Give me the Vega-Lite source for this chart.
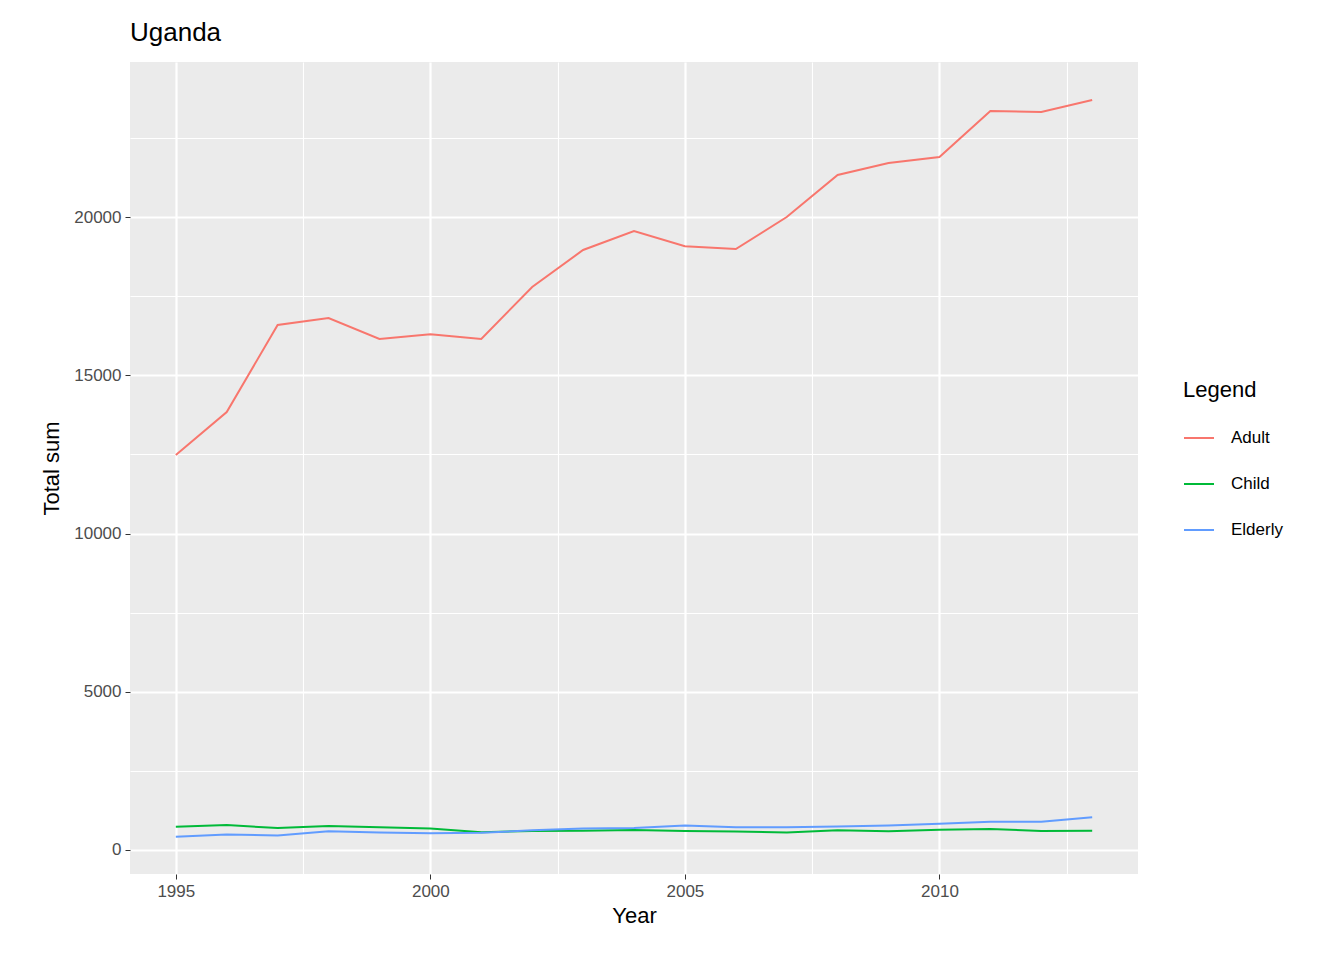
{
  "$schema": "https://vega.github.io/schema/vega-lite/v6.json",
  "width": 1008,
  "height": 812,
  "autosize": "none",
  "padding": {"left": 130, "top": 62, "right": 206, "bottom": 86},
  "background": "white",
  "config": {
    "font": "Liberation Sans",
    "view": {"fill": "#EBEBEB", "stroke": null},
    "axis": {"domain": false, "labelFontSize": 17, "labelColor": "#4D4D4D", "titleFontSize": 22, "titleFontWeight": "normal", "titleColor": "black", "tickColor": "#333333", "tickSize": 5, "gridColor": "white", "gridWidth": 2.2}
  },
  "title": {"text": "Uganda", "anchor": "start", "frame": "group", "fontSize": 26, "fontWeight": "normal", "offset": 16},
  "data": {"values": [
    {"Year":1995,"g":"Adult","v":12480},{"Year":1996,"g":"Adult","v":13840},{"Year":1997,"g":"Adult","v":16590},{"Year":1998,"g":"Adult","v":16810},{"Year":1999,"g":"Adult","v":16150},{"Year":2000,"g":"Adult","v":16300},{"Year":2001,"g":"Adult","v":16150},{"Year":2002,"g":"Adult","v":17790},{"Year":2003,"g":"Adult","v":18960},{"Year":2004,"g":"Adult","v":19560},{"Year":2005,"g":"Adult","v":19080},{"Year":2006,"g":"Adult","v":18990},{"Year":2007,"g":"Adult","v":20000},{"Year":2008,"g":"Adult","v":21330},{"Year":2009,"g":"Adult","v":21710},{"Year":2010,"g":"Adult","v":21900},{"Year":2011,"g":"Adult","v":23350},{"Year":2012,"g":"Adult","v":23320},{"Year":2013,"g":"Adult","v":23700},
    {"Year":1995,"g":"Child","v":730},{"Year":1996,"g":"Child","v":790},{"Year":1997,"g":"Child","v":690},{"Year":1998,"g":"Child","v":760},{"Year":1999,"g":"Child","v":720},{"Year":2000,"g":"Child","v":680},{"Year":2001,"g":"Child","v":560},{"Year":2002,"g":"Child","v":600},{"Year":2003,"g":"Child","v":610},{"Year":2004,"g":"Child","v":630},{"Year":2005,"g":"Child","v":600},{"Year":2006,"g":"Child","v":580},{"Year":2007,"g":"Child","v":550},{"Year":2008,"g":"Child","v":620},{"Year":2009,"g":"Child","v":590},{"Year":2010,"g":"Child","v":640},{"Year":2011,"g":"Child","v":660},{"Year":2012,"g":"Child","v":600},{"Year":2013,"g":"Child","v":610},
    {"Year":1995,"g":"Elderly","v":420},{"Year":1996,"g":"Elderly","v":490},{"Year":1997,"g":"Elderly","v":460},{"Year":1998,"g":"Elderly","v":590},{"Year":1999,"g":"Elderly","v":550},{"Year":2000,"g":"Elderly","v":530},{"Year":2001,"g":"Elderly","v":540},{"Year":2002,"g":"Elderly","v":620},{"Year":2003,"g":"Elderly","v":680},{"Year":2004,"g":"Elderly","v":690},{"Year":2005,"g":"Elderly","v":770},{"Year":2006,"g":"Elderly","v":720},{"Year":2007,"g":"Elderly","v":720},{"Year":2008,"g":"Elderly","v":740},{"Year":2009,"g":"Elderly","v":770},{"Year":2010,"g":"Elderly","v":830},{"Year":2011,"g":"Elderly","v":890},{"Year":2012,"g":"Elderly","v":890},{"Year":2013,"g":"Elderly","v":1030}
  ]},
  "layer": [
    {
      "mark": {"type": "line", "opacity": 0},
      "encoding": {
        "x": {"field": "Year", "type": "quantitative", "scale": {"domain": [1994.1, 2013.9], "nice": false, "zero": false},
              "axis": {"orient": "bottom", "grid": true, "values": [1997.5, 2002.5, 2007.5, 2012.5], "labels": false, "ticks": false, "title": null, "gridWidth": 1.1}},
        "y": {"field": "v", "type": "quantitative", "scale": {"domain": [-760, 24900], "nice": false},
              "axis": {"orient": "left", "grid": true, "values": [2500, 7500, 12500, 17500, 22500], "labels": false, "ticks": false, "title": null, "gridWidth": 1.1}}
      }
    },
    {
      "mark": {"type": "line", "strokeWidth": 2},
      "encoding": {
        "x": {"field": "Year", "type": "quantitative", "axis": {"orient": "bottom", "grid": true, "values": [1995, 2000, 2005, 2010], "format": "d", "title": "Year", "labelPadding": 4, "titlePadding": 6}},
        "y": {"field": "v", "type": "quantitative", "axis": {"orient": "left", "grid": true, "values": [0, 5000, 10000, 15000, 20000], "format": "d", "title": "Total sum", "labelPadding": 4, "titlePadding": 10}},
        "color": {"field": "g", "type": "nominal",
                  "scale": {"domain": ["Adult", "Child", "Elderly"], "range": ["#F8766D", "#00BA38", "#619CFF"]},
                  "legend": {"orient": "none", "legendX": 1053, "legendY": 318, "title": "Legend", "titleFontSize": 22, "titleFontWeight": "normal", "titleColor": "black", "labelFontSize": 17, "labelColor": "black", "symbolType": "stroke", "symbolSize": 900, "symbolStrokeWidth": 2, "rowPadding": 22, "titlePadding": 20, "labelOffset": 16}}
      }
    }
  ],
  "resolve": {"axis": {"x": "independent", "y": "independent"}}
}
